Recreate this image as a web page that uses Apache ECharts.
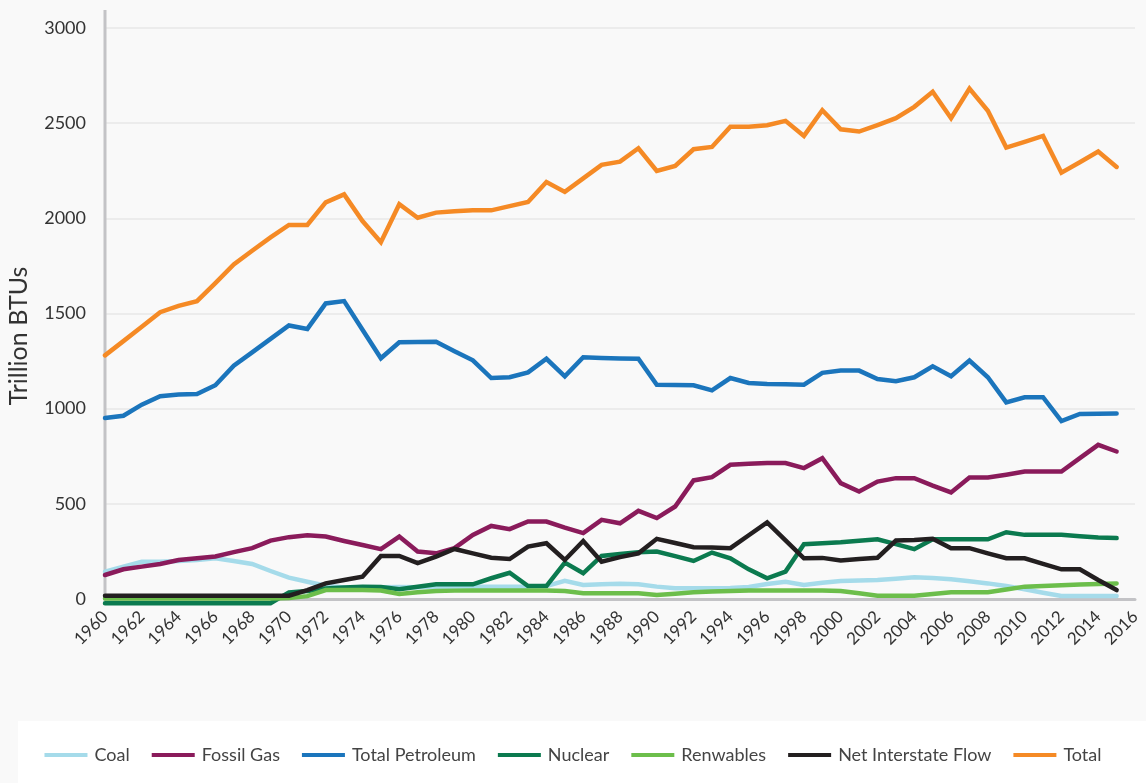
<!DOCTYPE html>
<html>
<head>
<meta charset="utf-8">
<title>Energy consumption by source</title>
<script src="https://cdn.jsdelivr.net/npm/echarts@6/dist/echarts.min.js"></script>
<style>
    html, body { margin: 0; padding: 0; background: #f9f9f9; }
    #chart { width: 1146px; height: 783px; }
</style>
</head>
<body>
<div id="chart"></div>
<script>
// 年份 1960-2015
const years = [];
for (let y = 1960; y <= 2015; y++) years.push(y);

const yTicks = [0, 500, 1000, 1500, 2000, 2500, 3000];

const coal = [144, 170, 196, 196, 200, 205, 214, 200, 184, 147, 112, 91, 70, 60, 58, 62, 63, 62, 65, 65, 65, 65, 65, 65, 68, 95, 74, 78, 80, 77, 65, 56, 56, 56, 58, 63, 79, 91, 74, 85, 95, 97, 100, 107, 114, 110, 104, 93, 82, 68, 51, 33, 16, 16, 16, 16];
const fossilGas = [126, 156, 170, 184, 205, 214, 223, 246, 267, 307, 325, 335, 328, 305, 284, 262, 328, 249, 240, 267, 337, 384, 367, 407, 407, 375, 346, 416, 398, 463, 425, 486, 623, 640, 705, 710, 714, 714, 688, 740, 609, 565, 617, 635, 635, 596, 560, 638, 638, 653, 670, 670, 670, 740, 810, 775];
const petroleum = [951, 963, 1021, 1065, 1074, 1077, 1123, 1226, 1296, 1367, 1437, 1419, 1553, 1565, 1415, 1265, 1349, 1350, 1351, 1302, 1254, 1161, 1165, 1191, 1262, 1170, 1270, 1266, 1264, 1262, 1126, 1124, 1123, 1096, 1161, 1135, 1130, 1128, 1126, 1188, 1200, 1200, 1156, 1144, 1165, 1223, 1170, 1253, 1165, 1033, 1060, 1060, 935, 972, 973, 975];
const nuclear = [-22, -22, -22, -22, -22, -22, -22, -22, -22, -22, 35, 42, 55, 60, 65, 63, 51, 64, 77, 77, 77, 109, 138, 68, 68, 191, 135, 226, 236, 246, 249, 225, 200, 244, 214, 156, 109, 144, 288, 293, 298, 306, 314, 288, 262, 314, 314, 314, 314, 351, 337, 337, 337, 330, 323, 320];
const renewables = [2, 2, 2, 2, 2, 2, 2, 2, 2, 2, 5, 15, 47, 47, 47, 45, 26, 36, 42, 44, 45, 45, 45, 45, 45, 42, 30, 30, 30, 30, 21, 28, 35, 40, 42, 45, 45, 45, 45, 45, 42, 30, 17, 17, 17, 26, 35, 35, 35, 50, 65, 68, 72, 76, 79, 82];
const netFlow = [17, 17, 17, 17, 17, 17, 17, 17, 17, 17, 17, 47, 82, 100, 117, 226, 226, 188, 223, 263, 240, 217, 210, 275, 293, 205, 305, 196, 220, 240, 316, 294, 272, 270, 267, 335, 402, 308, 214, 216, 202, 210, 217, 307, 310, 316, 267, 267, 240, 214, 214, 185, 156, 156, 100, 47];
const total = [1280, 1355, 1430, 1507, 1540, 1565, 1660, 1758, 1830, 1900, 1965, 1965, 2084, 2126, 1986, 1875, 2074, 2003, 2030, 2037, 2042, 2042, 2064, 2086, 2191, 2139, 2210, 2281, 2298, 2368, 2249, 2275, 2363, 2375, 2481, 2481, 2489, 2512, 2433, 2568, 2468, 2456, 2490, 2526, 2586, 2665, 2526, 2682, 2565, 2372, 2402, 2433, 2240, 2295, 2351, 2270];

const seriesNames = ['Coal', 'Fossil Gas', 'Total Petroleum', 'Nuclear', 'Renwables', 'Net Interstate Flow', 'Total'];
const seriesColors = ['#a5dbea', '#8a1b5b', '#1b75bc', '#0b7a4f', '#6cbe4b', '#231f20', '#f58a25'];
const seriesValues = [coal, fossilGas, petroleum, nuclear, renewables, netFlow, total];

const fontFamily = 'Lato, "Noto Sans", sans-serif';

const chart = echarts.init(document.getElementById('chart'));

const option = {
    backgroundColor: '#f9f9f9',
    animation: false,
    textStyle: { fontFamily: fontFamily },
    color: seriesColors,
    grid: {
        left: 105,
        right: 11,
        top: 28,
        bottom: 184
    },
    graphic: [
        {
            // 图例白色底框
            type: 'rect',
            left: 18,
            top: 721,
            shape: { width: 1128, height: 62 },
            style: { fill: '#ffffff' },
            z: -1
        },
        {
            // 纵轴线（延伸到3000以上）
            type: 'line',
            shape: { x1: 105, y1: 10, x2: 105, y2: 599 },
            style: { stroke: '#c3c3c6', lineWidth: 3 },
            z: 1
        },
        {
            // 纵轴标题
            type: 'text',
            x: 19,
            y: 336,
            rotation: Math.PI / 2,
            style: {
                text: 'Trillion BTUs',
                fontSize: 25,
                fontFamily: fontFamily,
                fill: '#333',
                align: 'center',
                verticalAlign: 'middle'
            }
        }
    ],
    legend: {
        data: seriesNames,
        left: 'center',
        top: 741,
        itemWidth: 43,
        itemHeight: 4,
        itemGap: 22,
        icon: 'rect',
        textStyle: { fontSize: 18, color: '#444', fontFamily: fontFamily, padding: [0, 0, 0, 2] }
    },
    xAxis: {
        type: 'value',
        min: 1960,
        max: 2016,
        interval: 2,
        axisLine: { show: true, onZero: false, lineStyle: { color: '#c3c3c6', width: 3 } },
        axisTick: { show: false },
        splitLine: { show: false },
        axisLabel: {
            rotate: 45,
            margin: 15,
            fontSize: 17,
            color: '#333',
            formatter: function (v) { return String(v); }
        }
    },
    yAxis: {
        type: 'value',
        min: yTicks[0],
        max: yTicks[yTicks.length - 1],
        interval: 500,
        axisLine: { show: false },
        axisTick: { show: false },
        axisLabel: {
            fontSize: 18,
            color: '#333',
            margin: 19,
            formatter: function (v) { return String(v); }
        },
        splitLine: { lineStyle: { color: '#ececec', width: 2 } }
    },
    series: seriesNames.map(function (name, i) {
        return {
            name: name,
            type: 'line',
            data: years.map(function (yr, j) { return [yr, seriesValues[i][j]]; }),
            showSymbol: false,
            symbol: 'none',
            clip: false,
            lineStyle: { width: 4.5, color: seriesColors[i], cap: 'round', join: 'miter' },
            itemStyle: { color: seriesColors[i] },
            z: 2 + i
        };
    })
};

chart.setOption(option);
window.addEventListener('resize', function () {
    chart.resize();
});
</script>
</body>
</html>
